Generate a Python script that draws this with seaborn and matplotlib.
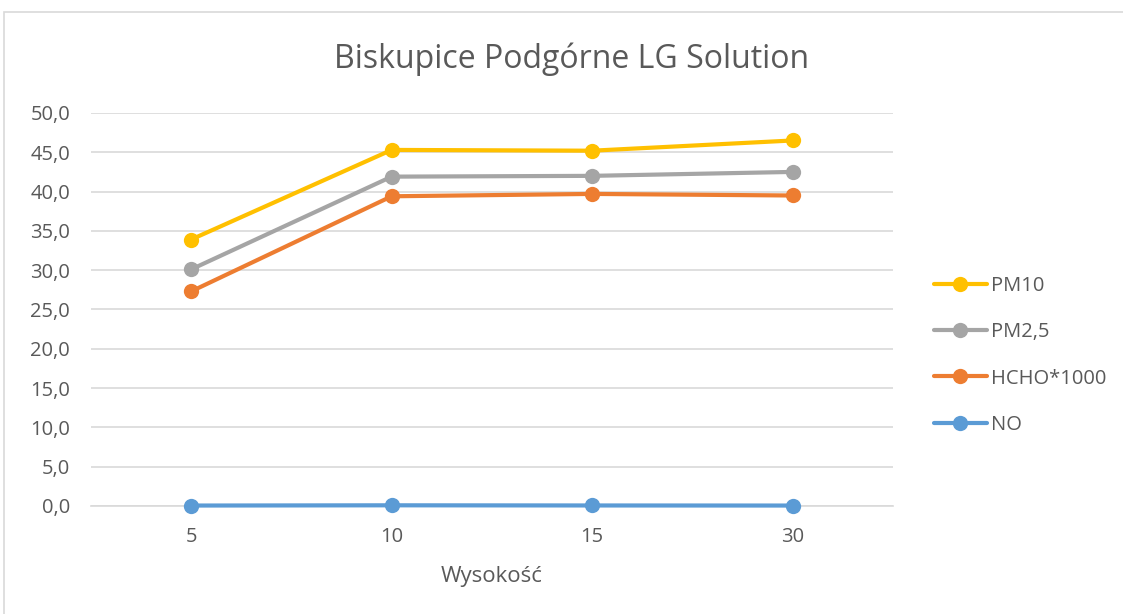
import matplotlib
matplotlib.use("Agg")
import matplotlib.pyplot as plt
import seaborn as sns
import pandas as pd
from matplotlib.patches import Rectangle
from matplotlib.ticker import FuncFormatter

heights = ["5", "10", "15", "30"]
pm10 = [33.9, 45.3, 45.2, 46.5]
pm25 = [30.1, 41.9, 42.0, 42.5]
hcho = [27.3, 39.4, 39.7, 39.5]
no = [0.05, 0.08, 0.06, 0.05]
series_names = ["PM10", "PM2,5", "HCHO*1000", "NO"]
colors = ["#FFC000", "#A5A5A5", "#ED7D31", "#5B9BD5"]
title = "Biskupice Podgórne LG Solution"
xlabel = "Wysokość"

rows = []
for name, vals in zip(series_names, [pm10, pm25, hcho, no]):
    for h, v in zip(heights, vals):
        rows.append({"Wysokość": h, "value": v, "series": name})
df = pd.DataFrame(rows)

sns.set_theme(style="white")
plt.rcParams["font.family"] = ["Open Sans", "DejaVu Sans"]

fig = plt.figure(figsize=(11.23, 6.14), dpi=100)
ax = fig.add_axes([0.081, 0.176, 0.714, 0.640])

sns.lineplot(data=df, x="Wysokość", y="value", hue="series", hue_order=series_names,
             palette=colors, marker="o", markersize=11, markeredgewidth=0,
             linewidth=3, sort=False, ax=ax, legend=True)
for ln in ax.get_lines():
    ln.set_clip_on(False)
    ln.set_zorder(4)

ax.set_xlim(-0.5, 3.5)
ax.set_ylim(0, 50)
ax.set_yticks([i * 5 for i in range(11)])
ax.yaxis.set_major_formatter(FuncFormatter(lambda v, p: f"{v:.1f}".replace(".", ",")))
ax.grid(axis="y", color="#D9D9D9", linewidth=1.2)
ax.set_axisbelow(True)
for s in ["top", "right", "left"]:
    ax.spines[s].set_visible(False)
ax.spines["bottom"].set_color("#D9D9D9")
ax.spines["bottom"].set_linewidth(1.2)
ax.tick_params(axis="both", length=0, labelsize=14.5, labelcolor="#595959")
ax.tick_params(axis="y", pad=15)
ax.tick_params(axis="x", pad=15)
ax.set_xlabel(xlabel, fontsize=16, color="#595959", labelpad=14)
ax.set_ylabel("")
fig.text(0.509, 0.904, title, ha="center", va="center", fontsize=23, color="#595959")

handles, labels = ax.get_legend_handles_labels()
leg = ax.legend(handles, labels, loc="center left", bbox_to_anchor=(1.041, 0.383),
                frameon=False, fontsize=14.5, labelspacing=1.3, handlelength=2.65,
                handletextpad=0.2, borderaxespad=0)
for t in leg.get_texts():
    t.set_color("#595959")

fig.patches.append(Rectangle((0.004, -0.01), 1.1, 0.99, transform=fig.transFigure,
                             fill=False, edgecolor="#D9D9D9", linewidth=1.2))

fig.savefig("out.png", dpi=100)
